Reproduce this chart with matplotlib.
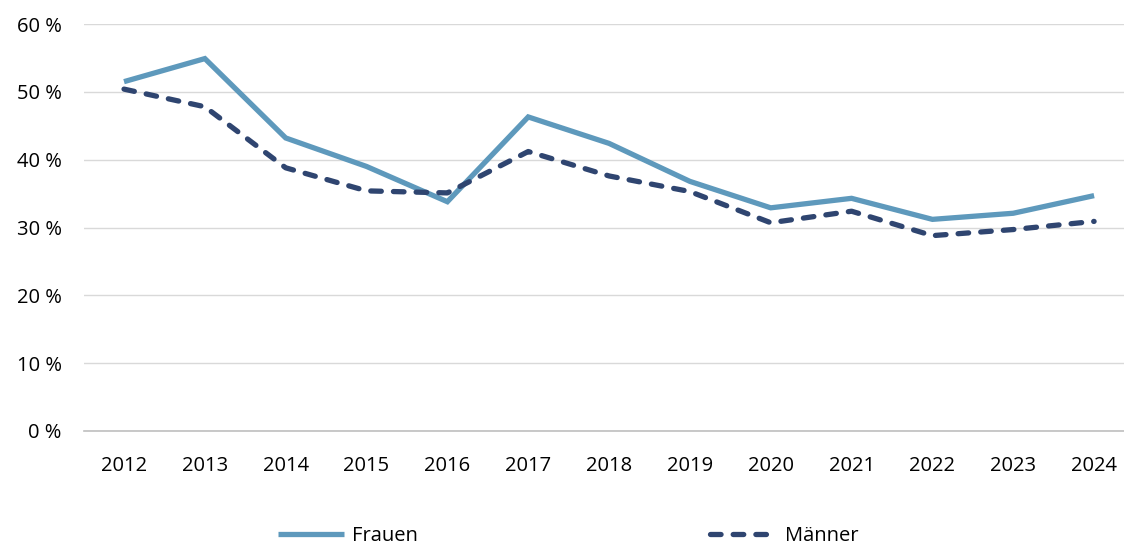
import matplotlib.pyplot as plt
from matplotlib.ticker import FuncFormatter

years = ["2012", "2013", "2014", "2015", "2016", "2017", "2018",
         "2019", "2020", "2021", "2022", "2023", "2024"]
frauen = [51.5, 54.9, 43.2, 39.0, 33.8, 46.3, 42.4, 36.8, 32.9, 34.3, 31.2, 32.1, 34.7]
maenner = [50.4, 47.8, 38.8, 35.4, 35.1, 41.2, 37.6, 35.3, 30.7, 32.4, 28.8, 29.7, 30.9]

plt.rcParams['font.family'] = ['Open Sans', 'DejaVu Sans']

fig = plt.figure(figsize=(11.24, 5.47), dpi=100)
ax = fig.add_axes([84 / 1124, 1 - 431 / 547, 1 - 84 / 1124, (431 - 24) / 547])

x = range(len(years))
ax.plot(x, frauen, color="#5E99BC", lw=3.8, solid_capstyle="butt",
        solid_joinstyle="miter", label="Frauen")
ax.plot(x, maenner, color="#2F4570", lw=3.8, dashes=(2, 2.3),
        dash_capstyle="round", dash_joinstyle="round", label="Männer")

ax.set_xlim(-0.495, 12.37)
ax.set_ylim(0, 60)
ax.set_yticks(range(0, 61, 10))
ax.yaxis.set_major_formatter(FuncFormatter(lambda v, p: f"{int(v)} %"))
ax.set_xticks(list(x))
ax.set_xticklabels(years)
ax.grid(axis="y", color="#D9D9D9", lw=1)
ax.set_axisbelow(True)
for s in ["top", "right", "left"]:
    ax.spines[s].set_visible(False)
ax.spines["bottom"].set_color("#BFBFBF")
ax.spines["bottom"].set_linewidth(1.2)
ax.tick_params(length=0, labelsize=14.5, colors="#000000", pad=18)
ax.tick_params(axis="y", pad=16)

fig.legend(loc="center", bbox_to_anchor=(568 / 1124, 1 - 536 / 547), ncol=2,
           frameon=False, fontsize=14.5, handlelength=3.3, handletextpad=0.4,
           columnspacing=14.5)

plt.savefig("out.png", dpi=100)
